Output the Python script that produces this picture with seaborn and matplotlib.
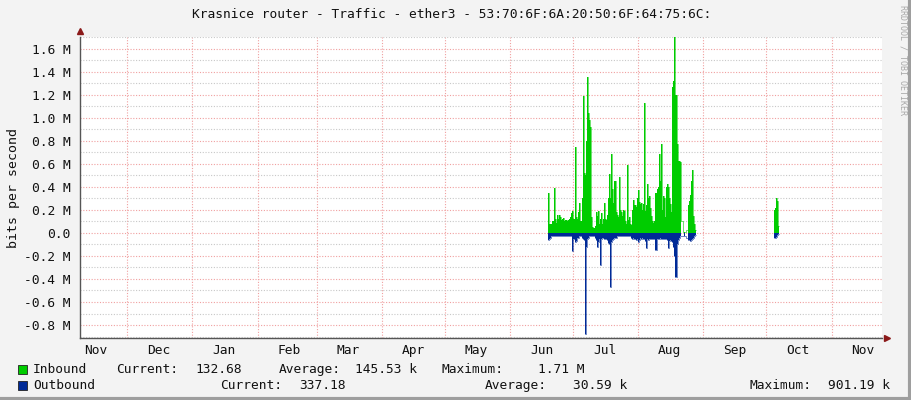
import numpy as np
import pandas as pd
import matplotlib
matplotlib.use("Agg")
import matplotlib.pyplot as plt
import matplotlib.dates as mdates
from matplotlib.ticker import FuncFormatter, MultipleLocator
import seaborn as sns

nan = np.nan

# 12 hour samples, values in Mbit/s
start_main = "2023-06-19 00:00"
inbound = [
    0.08, 0.35, 0.08, 0.08, 0.08, 0.10, 0.39, 0.12, 0.09, 0.16,
    0.12, 0.16, 0.14, 0.11, 0.12, 0.13, 0.10, 0.11, 0.11, 0.10,
    0.11, 0.12, 0.14, 0.17, 0.19, 0.12, 0.75, 0.14, 0.12, 0.18,
    0.26, 0.10, 0.10, 0.30, 1.19, 0.52, 0.50, 0.80, 1.36, 1.04,
    0.98, 0.92, 0.14, 0.05, 0.04, 0.06, 0.18, 0.15, 0.19, 0.08,
    0.12, 0.17, 0.08, 0.12, 0.26, 0.12, 0.11, 0.16, 0.30, 0.51,
    0.30, 0.69, 0.38, 0.26, 0.45, 0.18, 0.16, 0.14, 0.49, 0.20,
    0.18, 0.15, 0.20, 0.19, 0.10, 0.08, 0.59, 0.11, 0.14, 0.08,
    0.07, 0.20, 0.29, 0.24, 0.23, 0.30, 0.37, 0.27, 0.25, 0.26,
    0.20, 0.25, 1.13, 0.19, 0.24, 0.43, 0.30, 0.32, 0.22, 0.15,
    0.10, 0.09, 0.10, 0.35, 0.38, 0.40, 0.69, 0.45, 0.77, 0.20,
    0.32, 0.30, 0.14, 0.40, 0.43, 0.40, 0.30, 0.25, 0.18, 1.27,
    1.32, 1.70, 1.20, 0.77, 0.63, 0.63, 0.62, 0.10, nan, nan,
    0.01, 0.01, nan, 0.03, 0.24, 0.28, 0.33, 0.45, 0.55, 0.15,
    0.08, 0.03,
]
outbound = [
    0.06, 0.06, 0.05, 0.04, 0.03, 0.03, 0.03, 0.03, 0.025, 0.025,
    0.025, 0.025, 0.025, 0.025, 0.025, 0.025, 0.025, 0.025, 0.025, 0.025,
    0.025, 0.025, 0.025, 0.03, 0.16, 0.05, 0.075, 0.07, 0.04, 0.04,
    0.03, 0.03, 0.03, 0.04, 0.05, 0.06, 0.88, 0.12, 0.05, 0.04,
    0.03, 0.03, 0.03, 0.03, 0.03, 0.04, 0.06, 0.12, 0.08, 0.05,
    0.28, 0.05, 0.04, 0.04, 0.05, 0.05, 0.05, 0.06, 0.09, 0.10,
    0.47, 0.08, 0.06, 0.05, 0.04, 0.04, 0.03, 0.03, 0.03, 0.03,
    0.03, 0.03, 0.03, 0.03, 0.03, 0.03, 0.03, 0.03, 0.03, 0.03,
    0.04, 0.05, 0.04, 0.05, 0.06, 0.05, 0.08, 0.06, 0.04, 0.05,
    0.04, 0.05, 0.05, 0.07, 0.13, 0.05, 0.06, 0.05, 0.05, 0.05,
    0.05, 0.05, 0.05, 0.15, 0.05, 0.05, 0.05, 0.04, 0.05, 0.05,
    0.05, 0.05, 0.05, 0.05, 0.06, 0.13, 0.07, 0.06, 0.07, 0.08,
    0.12, 0.20, 0.38, 0.10, 0.06, 0.04, 0.03, 0.03, nan, nan,
    0.03, 0.03, nan, 0.04, 0.06, 0.06, 0.07, 0.06, 0.05, 0.04,
    0.03, 0.02,
]
# short burst in October
start_oct = "2023-10-04 12:00"
inbound_oct = [0.10, 0.20, 0.22, 0.30, 0.28, 0.06]
outbound_oct = [0.045, 0.046, 0.04, 0.035, 0.02, 0.01]

legend_rows = [
    ("Inbound", "#00CC00", [("Current:", 116), ("132.68", 195), ("Average:", 279),
                            ("145.53 k", 355), ("Maximum:", 441), ("1.71 M", 538)]),
    ("Outbound", "#002A97", [("Current:", 220), ("337.18", 299), ("Average:", 485),
                             ("30.59 k", 573), ("Maximum:", 750), ("901.19 k", 828)]),
]
title = "Krasnice router - Traffic - ether3 - 53:70:6F:6A:20:50:6F:64:75:6C:"

sns.set_style("white")
plt.rcParams["font.family"] = ["DejaVu Sans Mono", "DejaVu Sans"]

green = "#00CC00"
blue = "#002A97"

df = pd.DataFrame({
    "time": pd.date_range(start_main, periods=len(inbound), freq="12h"),
    "inbound": np.array(inbound) * 1e6,
    "outbound": -np.array(outbound) * 1e6,
})
df_oct = pd.DataFrame({
    "time": pd.date_range(start_oct, periods=len(inbound_oct), freq="12h"),
    "inbound": np.array(inbound_oct) * 1e6,
    "outbound": -np.array(outbound_oct) * 1e6,
})

W, H = 911, 400
fig = plt.figure(figsize=(W / 100, H / 100), dpi=100)
fig.patch.set_facecolor("#F3F3F3")
ax = fig.add_axes([80 / W, 62 / H, 802 / W, 301 / H])
ax.set_facecolor("white")

for d in (df, df_oct):
    ax.fill_between(d["time"], d["inbound"], 0, step="mid", color=green, lw=0)
    ax.fill_between(d["time"], d["outbound"], 0, step="mid", color=blue, lw=0)
    sns.lineplot(data=d, x="time", y="inbound", ax=ax, color=green, lw=0.4,
                 drawstyle="steps-mid")
    sns.lineplot(data=d, x="time", y="outbound", ax=ax, color=blue, lw=0.4,
                 drawstyle="steps-mid")

ax.set_xlim(pd.Timestamp("2022-11-08 12:00"), pd.Timestamp("2023-11-25 00:00"))
ax.set_ylim(-0.913e6, 1.704e6)

# grid
ax.yaxis.set_major_locator(MultipleLocator(0.2e6))
ax.yaxis.set_minor_locator(MultipleLocator(0.1e6))
ax.xaxis.set_major_locator(mdates.MonthLocator())
ax.xaxis.set_minor_locator(mdates.MonthLocator(bymonthday=16))
ax.xaxis.set_major_formatter(FuncFormatter(lambda v, p: ""))
ax.xaxis.set_minor_formatter(mdates.DateFormatter("%b"))
ax.grid(which="minor", axis="y", color="#C8C8C8", lw=0.8, ls=(0, (1, 1.5)))
ax.grid(which="major", axis="y", color="#F0A0A0", lw=0.8, ls=(0, (1, 1.5)))
ax.grid(which="major", axis="x", color="#F0A0A0", lw=0.8, ls=(0, (1, 1.5)))
ax.set_axisbelow(True)


def mfmt(v, p):
    if abs(v) < 1:
        return "0.0"
    return f"{v / 1e6:.1f} M"


ax.yaxis.set_major_formatter(FuncFormatter(mfmt))
ax.tick_params(axis="y", which="major", direction="inout", length=4, width=0.8,
               color="#555555", labelsize=9.3, pad=5, labelcolor="#111111")
ax.tick_params(axis="y", which="minor", length=0)
ax.tick_params(axis="x", which="major", direction="out", length=3, width=0.8,
               color="#555555")
ax.tick_params(axis="x", which="minor", length=0, labelsize=9.3, pad=4,
               labelcolor="#111111")

for s in ("top", "right"):
    ax.spines[s].set_visible(False)
for s in ("left", "bottom"):
    ax.spines[s].set_color("#555555")
    ax.spines[s].set_linewidth(1.0)

ax.set_xlabel("")
ax.set_ylabel("bits per second", fontsize=9.5, labelpad=3, color="#111111")

# axis arrows
ax.plot([0], [1 + 6 / 301], marker="^", color="#8B1A1A", ms=5, transform=ax.transAxes,
        clip_on=False)
ax.plot([1 + 5 / 802], [0], marker=">", color="#8B1A1A", ms=5, transform=ax.transAxes,
        clip_on=False)

fig.text(452 / W, 1 - 15 / H, title, ha="center", va="center", fontsize=9.3,
         color="#111111")
fig.text(903 / W, 1 - 5 / H, "RRDTOOL / TOBI OETIKER", rotation=270, ha="center",
         va="top", fontsize=6, color="#A8A8A8")

for row, (name, col, items) in enumerate(legend_rows):
    yb = 1 - (373 + 16 * row) / H
    fig.patches.append(plt.Rectangle((18 / W, yb - 1 / H), 9 / W, 9 / H, facecolor=col,
                                     edgecolor="#222222", lw=0.6,
                                     transform=fig.transFigure))
    fig.text(33 / W, yb, name, ha="left", va="baseline", fontsize=9.3, color="#111111")
    for txt, x in items:
        fig.text(x / W, yb, txt, ha="left", va="baseline", fontsize=9.3,
                 color="#111111")

# frame shading
fig.add_artist(plt.Line2D([1 - 1.5 / W, 1 - 1.5 / W], [0, 1], color="#9E9E9E", lw=3,
                          transform=fig.transFigure))
fig.add_artist(plt.Line2D([0, 1], [1.5 / H, 1.5 / H], color="#9E9E9E", lw=3,
                          transform=fig.transFigure))

fig.savefig("out.png", dpi=100, facecolor=fig.get_facecolor())
